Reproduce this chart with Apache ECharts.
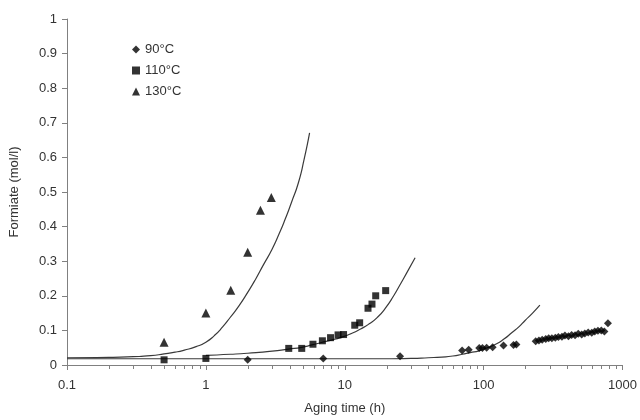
<!DOCTYPE html>
<html><head><meta charset="utf-8">
<script src="https://cdn.jsdelivr.net/npm/echarts@6/dist/echarts.min.js"></script>
<style>html,body{margin:0;padding:0;background:#fff}#c{width:640px;height:420px}</style>
</head><body><div id="c"></div>
<script>
// Measured points (x = aging time h, y = formiate mol/l)
var t90 = [2, 7, 25, 70, 78, 93, 98, 105, 116, 139, 164, 172, 237, 250, 264, 280, 294, 310, 328, 345, 366, 385, 408, 430, 455, 480, 508, 535, 566, 600, 631, 665, 703, 740, 785];
var y90 = [0.015, 0.019, 0.025, 0.042, 0.044, 0.049, 0.049, 0.05, 0.051, 0.056, 0.058, 0.059, 0.069, 0.071, 0.073, 0.075, 0.077, 0.077, 0.079, 0.081, 0.082, 0.085, 0.083, 0.087, 0.086, 0.09, 0.088, 0.091, 0.094, 0.093, 0.097, 0.099, 0.1, 0.097, 0.121];
var t110 = [0.5, 1, 3.95, 4.9, 5.9, 6.9, 7.9, 8.95, 9.8, 11.8, 12.8, 14.7, 15.7, 16.7, 19.7];
var y110 = [0.015, 0.019, 0.048, 0.048, 0.06, 0.07, 0.079, 0.087, 0.088, 0.115, 0.122, 0.164, 0.176, 0.2, 0.215];
var t130 = [0.5, 1, 1.51, 2.0, 2.47, 2.96];
var y130 = [0.066, 0.15, 0.216, 0.326, 0.447, 0.484];
// Fitted curves
var ct130 = [0.1, 0.2, 0.3, 0.4, 0.5, 0.6, 0.7, 0.85, 1.0, 1.15, 1.32, 1.5, 1.73, 2.0, 2.28, 2.6, 2.99, 3.35, 3.72, 4.15, 4.63, 5.1, 5.58];
var cy130 = [0.021, 0.022, 0.024, 0.027, 0.032, 0.037, 0.043, 0.053, 0.066, 0.085, 0.11, 0.138, 0.171, 0.21, 0.248, 0.29, 0.334, 0.377, 0.421, 0.472, 0.526, 0.595, 0.671];
var ct110 = [1, 1.5, 2, 3, 3.93, 4.9, 5.8, 6.78, 8, 9.4, 11, 13, 15, 17.1, 19.5, 22.5, 25, 28, 32.1];
var cy110 = [0.028, 0.031, 0.034, 0.04, 0.046, 0.051, 0.058, 0.065, 0.072, 0.08, 0.09, 0.104, 0.119, 0.137, 0.163, 0.2, 0.232, 0.267, 0.31];
var ct90 = [0.1, 1, 10, 20, 30, 40, 50, 60, 70, 80, 92.5, 105, 122, 140, 160, 180, 198, 225, 254];
var cy90 = [0.018, 0.018, 0.018, 0.018, 0.019, 0.021, 0.023, 0.026, 0.031, 0.036, 0.041, 0.049, 0.06, 0.075, 0.094, 0.111, 0.128, 0.15, 0.173];
var legendNames = ['90°C', '110°C', '130°C'];
var yTickLabels = ['0','0.1','0.2','0.3','0.4','0.5','0.6','0.7','0.8','0.9','1'];
var xMinorTicks = [0.2,0.3,0.4,0.5,0.6,0.7,0.8,0.9,2,3,4,5,6,7,8,9,20,30,40,50,60,70,80,90,200,300,400,500,600,700,800,900];

function zip(a, b) { return a.map(function (v, i) { return [v, b[i]]; }); }
var font = 'Liberation Sans, Arial, sans-serif';
var chart = echarts.init(document.getElementById('c'), null, {renderer: 'canvas'});
var lineStyle = {color: '#3a3a3a', width: 1.2};
function curve(name, xs, ys) {
  return {name: name, type: 'line', smooth: 0.6, showSymbol: false, symbol: 'none',
    lineStyle: lineStyle, data: zip(xs, ys), z: 2, silent: true};
}
chart.setOption({
  animation: false,
  backgroundColor: '#fff',
  textStyle: {fontFamily: font},
  grid: {left: 62, right: 15, top: 19, bottom: 54, containLabel: false},
  legend: {
    data: legendNames, orient: 'vertical', left: 127, top: 38,
    itemWidth: 8, itemHeight: 8, itemGap: 8,
    textStyle: {fontSize: 13, color: '#333', fontFamily: font}
  },
  xAxis: {
    type: 'log', logBase: 10, min: 0.1, max: 1000,
    name: 'Aging time (h)', nameLocation: 'middle', nameGap: 37,
    nameTextStyle: {fontSize: 13, color: '#333', fontFamily: font},
    axisLine: {show: true, lineStyle: {color: '#808080', width: 1}},
    axisTick: {show: true, inside: false, length: 5, lineStyle: {color: '#808080'}},
    axisLabel: {fontSize: 13, color: '#333', margin: 14, fontFamily: font,
      formatter: function (v) { return String(+v.toPrecision(3)); }},
    splitLine: {show: false}
  },
  yAxis: {
    type: 'value', min: 0, max: 1, interval: 0.1,
    name: 'Formiate (mol/l)', nameLocation: 'middle', nameGap: 46,
    nameTextStyle: {fontSize: 13, color: '#333', fontFamily: font},
    axisLine: {show: true, lineStyle: {color: '#808080', width: 1}},
    axisTick: {show: true, inside: false, length: 5, lineStyle: {color: '#808080'}},
    axisLabel: {fontSize: 13, color: '#333', margin: 10, fontFamily: font,
      formatter: function (v) { return yTickLabels[Math.round(v * 10)]; }},
    splitLine: {show: false}
  },
  series: [
    {name: legendNames[0], type: 'scatter', symbol: 'diamond', symbolSize: 8, itemStyle: {color: '#000'}, data: zip(t90, y90), z: 3},
    {name: legendNames[1], type: 'scatter', symbol: 'rect', symbolSize: 7, itemStyle: {color: '#000'}, data: zip(t110, y110), z: 3},
    {name: legendNames[2], type: 'scatter', symbol: 'triangle', symbolSize: 9, itemStyle: {color: '#000'}, data: zip(t130, y130), z: 3},
    curve('fit130', ct130, cy130),
    curve('fit110', ct110, cy110),
    curve('fit90', ct90, cy90),
    {name: 'minorTicks', type: 'custom', clip: false, silent: true, z: 1,
      data: xMinorTicks.map(function (v) { return [v, 0]; }),
      renderItem: function (params, api) {
        var p = api.coord([api.value(0), api.value(1)]);
        return {type: 'rect', shape: {x: Math.round(p[0]), y: Math.round(p[1]), width: 1, height: 4},
          style: {fill: '#808080'}};
      }}
  ]
});
</script></body></html>
